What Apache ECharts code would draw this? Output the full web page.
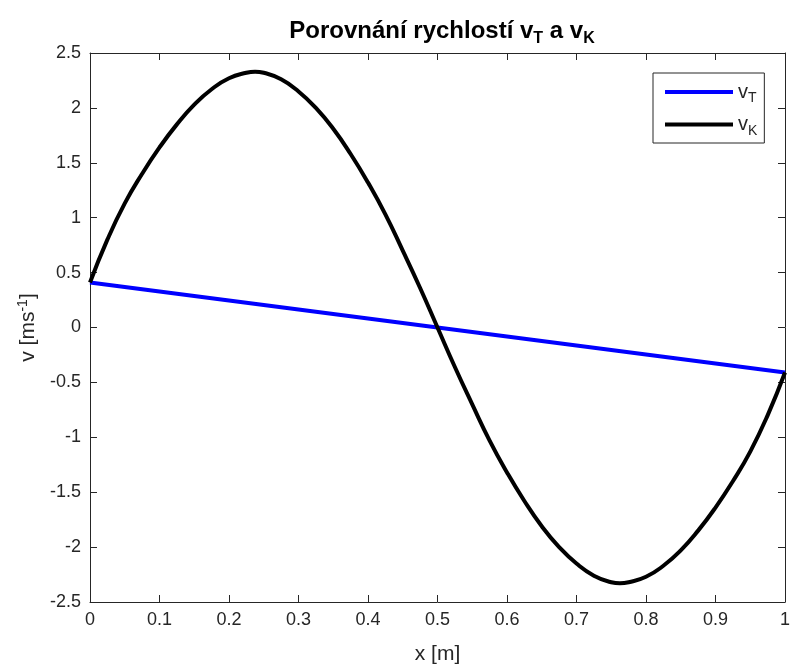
<!DOCTYPE html>
<html>
<head>
<meta charset="utf-8">
<script src="https://cdn.jsdelivr.net/npm/echarts@6/dist/echarts.min.js"></script>
<style>
  html, body { margin: 0; padding: 0; background: #fff; }
  #chart { width: 791px; height: 668px; }
</style>
</head>
<body>
<div id="chart"></div>
<script>
// Position along the string [m] for v_T samples
const xT = [0, 0.05, 0.1, 0.15, 0.2, 0.25, 0.3, 0.35, 0.4, 0.45, 0.5,
            0.55, 0.6, 0.65, 0.7, 0.75, 0.8, 0.85, 0.9, 0.95, 1];

// Velocity v_T [m/s]
const vT = [0.41, 0.369, 0.328, 0.287, 0.246, 0.205, 0.164, 0.123, 0.082, 0.041, 0,
            -0.041, -0.082, -0.123, -0.164, -0.205, -0.246, -0.287, -0.328, -0.369, -0.41];

// Position along the string [m] for v_K samples
const xK = [0, 0.025, 0.05, 0.075, 0.1, 0.125, 0.15, 0.175, 0.2, 0.225, 0.2375,
            0.25, 0.275, 0.3, 0.325, 0.35, 0.375, 0.4, 0.425, 0.45, 0.475,
            0.5, 0.525, 0.55, 0.575, 0.6, 0.625, 0.65, 0.675, 0.7, 0.725,
            0.75, 0.7625, 0.775, 0.8, 0.825, 0.85, 0.875, 0.9, 0.925, 0.95, 0.975, 1];

// Velocity v_K [m/s]
const vK = [0.41, 0.80, 1.13, 1.40, 1.64, 1.85, 2.03, 2.17, 2.27, 2.32, 2.33,
            2.32, 2.26, 2.15, 2.00, 1.81, 1.58, 1.32, 1.03, 0.70, 0.36,
            0.00, -0.36, -0.70, -1.03, -1.32, -1.58, -1.81, -2.00, -2.15, -2.26,
            -2.32, -2.33, -2.32, -2.27, -2.17, -2.03, -1.85, -1.64, -1.40, -1.13, -0.80, -0.41];

const seriesNames = ['vT', 'vK'];
const subscripts = { vT: 'T', vK: 'K' };

const FONT = '"Liberation Sans", Arial, Helvetica, sans-serif';
const INK = '#262626';

const pairs = (xs, ys) => xs.map((x, i) => [x, ys[i]]);
const fmt = v => String(Math.round(v * 10) / 10);

const chart = echarts.init(document.getElementById('chart'), null, { renderer: 'canvas' });

const boxAxisX = (pos, showLabel) => ({
  type: 'value', position: pos, min: 0, max: 1, interval: 0.1,
  axisLine: { show: true, onZero: false, lineStyle: { color: INK, width: 1 } },
  axisTick: { show: true, inside: true, length: 7, lineStyle: { color: INK, width: 1 } },
  axisLabel: { show: showLabel, color: INK, fontSize: 18, fontFamily: FONT, margin: 9, formatter: fmt },
  splitLine: { show: false }
});
const boxAxisY = (pos, showLabel) => ({
  type: 'value', position: pos, min: -2.5, max: 2.5, interval: 0.5,
  axisLine: { show: true, onZero: false, lineStyle: { color: INK, width: 1 } },
  axisTick: { show: true, inside: true, length: 7, lineStyle: { color: INK, width: 1 } },
  axisLabel: { show: showLabel, color: INK, fontSize: 18, fontFamily: FONT, margin: 9, formatter: fmt },
  splitLine: { show: false }
});

const xMain = boxAxisX('bottom', true);
xMain.name = 'x [m]';
xMain.nameLocation = 'middle';
xMain.nameGap = 42;
xMain.nameTextStyle = { color: INK, fontSize: 21, fontFamily: FONT };

const yMain = boxAxisY('left', true);
yMain.name = 'v [ms{sup|-1}]';
yMain.nameLocation = 'middle';
yMain.nameGap = 50;
yMain.nameTextStyle = {
  color: INK, fontSize: 21, fontFamily: FONT,
  rich: { sup: { fontSize: 14, verticalAlign: 'top', color: INK, fontFamily: FONT, padding: [0, 0, 10, 0] } }
};

chart.setOption({
  animation: false,
  backgroundColor: '#ffffff',
  title: {
    text: 'Porovnání rychlostí v{sub|T} a v{sub|K}',
    left: 437, textAlign: 'center', top: 11,
    textStyle: {
      fontSize: 24, fontWeight: 'bold', color: '#000', fontFamily: FONT,
      rich: { sub: { fontSize: 16, fontWeight: 'bold', color: '#000', fontFamily: FONT, padding: [15, 0, 0, 0] } }
    }
  },
  grid: { left: 90, right: 6, top: 53, bottom: 66, containLabel: false, outerBoundsMode: 'none' },
  xAxis: [xMain, boxAxisX('top', false)],
  yAxis: [yMain, boxAxisY('right', false)],
  legend: {
    left: 653, top: 73, orient: 'vertical',
    backgroundColor: '#fff', borderColor: INK, borderWidth: 1,
    padding: [8, 7, 5, 12], itemGap: 8,
    itemWidth: 68, itemHeight: 4, icon: 'rect',
    data: seriesNames,
    formatter: n => 'v{sub|' + subscripts[n] + '}',
    textStyle: {
      color: INK, fontSize: 20, fontFamily: FONT, lineHeight: 22,
      rich: { sub: { fontSize: 14, color: INK, fontFamily: FONT, padding: [13, 0, 0, 0] } }
    }
  },
  series: [
    { name: 'vT', type: 'line', data: pairs(xT, vT), showSymbol: false, smooth: false,
      lineStyle: { color: '#0000ff', width: 4 }, itemStyle: { color: '#0000ff' } },
    { name: 'vK', type: 'line', data: pairs(xK, vK), showSymbol: false, smooth: true,
      lineStyle: { color: '#000000', width: 4, join: 'round' }, itemStyle: { color: '#000000' } }
  ]
});
</script>
</body>
</html>
